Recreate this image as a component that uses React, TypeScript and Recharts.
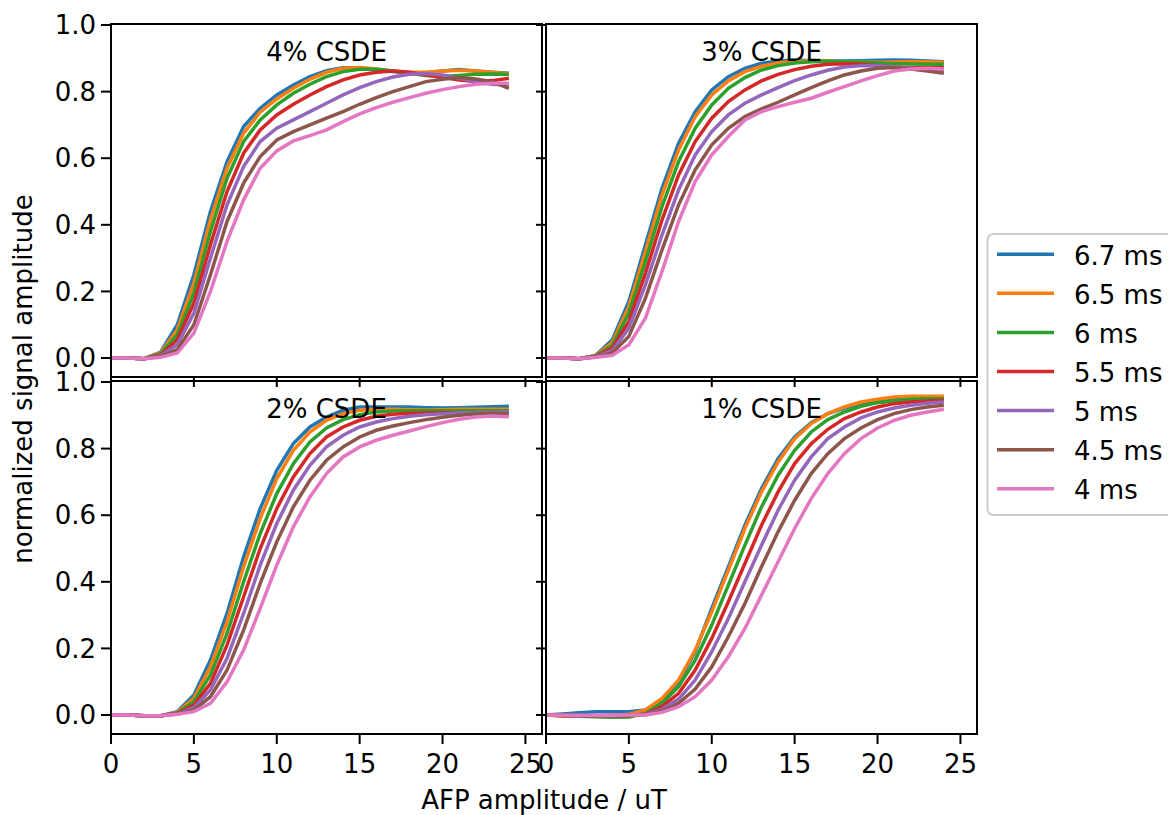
import React from 'react';
import { LineChart, Line, XAxis, YAxis } from 'recharts';

const FONT = '"DejaVu Sans", sans-serif';

const amplitudes = [0, 1, 2, 3, 4, 5, 6, 7, 8, 9, 10, 11, 12, 13, 14, 15, 16, 17, 18, 19, 20, 21, 22, 23, 24];
const pulseLabels = ['6.7 ms', '6.5 ms', '6 ms', '5.5 ms', '5 ms', '4.5 ms', '4 ms'];
const colors = ['#1f77b4', '#ff7f0e', '#2ca02c', '#d62728', '#9467bd', '#8c564b', '#e377c2'];
const xTicks = [0, 5, 10, 15, 20, 25];
const yTicks = [0, 0.2, 0.4, 0.6, 0.8, 1.0];

// one row per pulse duration, same order as pulseLabels
const csde4 = [
    [0, 0, -0.002, 0.018, 0.1, 0.25, 0.44, 0.59, 0.695, 0.75, 0.79, 0.82, 0.845, 0.863, 0.872, 0.872, 0.866, 0.86, 0.855, 0.857, 0.862, 0.866, 0.862, 0.858, 0.855],
    [0, 0, -0.002, 0.016, 0.085, 0.225, 0.415, 0.57, 0.675, 0.738, 0.778, 0.81, 0.837, 0.858, 0.87, 0.872, 0.868, 0.862, 0.858, 0.858, 0.862, 0.864, 0.862, 0.858, 0.854],
    [0, 0, -0.002, 0.013, 0.07, 0.195, 0.38, 0.54, 0.65, 0.715, 0.76, 0.795, 0.822, 0.845, 0.86, 0.867, 0.867, 0.862, 0.855, 0.848, 0.845, 0.848, 0.852, 0.853, 0.852],
    [0, 0, -0.002, 0.01, 0.055, 0.165, 0.34, 0.5, 0.615, 0.685, 0.73, 0.762, 0.79, 0.815, 0.835, 0.85, 0.858, 0.862, 0.858, 0.85, 0.843, 0.835, 0.83, 0.833, 0.84],
    [0, 0, -0.002, 0.008, 0.04, 0.135, 0.3, 0.46, 0.575, 0.65, 0.69, 0.715, 0.74, 0.765, 0.79, 0.812, 0.83, 0.844, 0.852, 0.854, 0.85, 0.84, 0.83, 0.822, 0.82],
    [0, 0, -0.002, 0.005, 0.025, 0.1, 0.25, 0.41, 0.525, 0.605, 0.655, 0.68, 0.7, 0.72, 0.74, 0.762, 0.782, 0.8, 0.815, 0.83, 0.837, 0.842, 0.838, 0.83, 0.81],
    [0, 0, -0.002, 0.002, 0.015, 0.075, 0.2, 0.35, 0.475, 0.57, 0.622, 0.652, 0.668, 0.685, 0.71, 0.733, 0.752, 0.768, 0.782, 0.795, 0.806, 0.815, 0.822, 0.825, 0.825],
];

const csde3 = [
    [0, 0, -0.002, 0.008, 0.055, 0.17, 0.34, 0.51, 0.645, 0.74, 0.805, 0.845, 0.87, 0.885, 0.892, 0.895, 0.893, 0.892, 0.892, 0.893, 0.894, 0.895, 0.894, 0.892, 0.89],
    [0, 0, -0.002, 0.007, 0.047, 0.155, 0.32, 0.49, 0.625, 0.725, 0.79, 0.832, 0.86, 0.876, 0.886, 0.891, 0.892, 0.892, 0.89, 0.889, 0.888, 0.889, 0.89, 0.89, 0.888],
    [0, 0, -0.002, 0.006, 0.038, 0.135, 0.29, 0.455, 0.59, 0.69, 0.76, 0.81, 0.842, 0.865, 0.878, 0.886, 0.89, 0.891, 0.89, 0.888, 0.886, 0.884, 0.883, 0.882, 0.882],
    [0, 0, -0.002, 0.005, 0.03, 0.11, 0.255, 0.415, 0.55, 0.65, 0.72, 0.77, 0.805, 0.832, 0.852, 0.866, 0.876, 0.882, 0.884, 0.882, 0.878, 0.874, 0.872, 0.872, 0.872],
    [0, 0, -0.002, 0.004, 0.022, 0.09, 0.22, 0.37, 0.505, 0.61, 0.68, 0.73, 0.765, 0.79, 0.812, 0.833, 0.85, 0.864, 0.874, 0.878, 0.878, 0.874, 0.87, 0.865, 0.862],
    [0, 0, -0.002, 0.003, 0.015, 0.065, 0.18, 0.325, 0.46, 0.565, 0.64, 0.69, 0.725, 0.748, 0.768, 0.79, 0.812, 0.832, 0.85, 0.862, 0.87, 0.872, 0.868, 0.862, 0.855],
    [0, 0, -0.002, 0.002, 0.008, 0.04, 0.12, 0.26, 0.41, 0.53, 0.61, 0.665, 0.715, 0.74, 0.755, 0.768, 0.78, 0.798, 0.815, 0.832, 0.848, 0.862, 0.868, 0.87, 0.868],
];

const csde2 = [
    [0, 0, -0.002, -0.002, 0.01, 0.06, 0.165, 0.305, 0.475, 0.62, 0.735, 0.815, 0.865, 0.895, 0.915, 0.925, 0.925, 0.925, 0.925, 0.923, 0.922, 0.923, 0.924, 0.926, 0.927],
    [0, 0, -0.002, -0.002, 0.008, 0.05, 0.145, 0.28, 0.445, 0.59, 0.71, 0.795, 0.85, 0.885, 0.905, 0.915, 0.918, 0.918, 0.917, 0.916, 0.917, 0.918, 0.918, 0.918, 0.918],
    [0, 0, -0.002, -0.002, 0.006, 0.04, 0.12, 0.245, 0.4, 0.545, 0.665, 0.755, 0.82, 0.862, 0.887, 0.902, 0.91, 0.913, 0.914, 0.914, 0.914, 0.914, 0.914, 0.914, 0.914],
    [0, 0, -0.002, -0.002, 0.005, 0.03, 0.095, 0.21, 0.355, 0.5, 0.62, 0.715, 0.785, 0.835, 0.865, 0.885, 0.897, 0.903, 0.906, 0.907, 0.908, 0.908, 0.908, 0.908, 0.908],
    [0, 0, -0.002, -0.002, 0.004, 0.022, 0.075, 0.17, 0.305, 0.45, 0.575, 0.675, 0.75, 0.805, 0.84, 0.865, 0.88, 0.89, 0.897, 0.902, 0.905, 0.907, 0.908, 0.909, 0.91],
    [0, 0, -0.002, -0.002, 0.003, 0.015, 0.055, 0.135, 0.255, 0.395, 0.52, 0.625, 0.705, 0.765, 0.805, 0.835, 0.855, 0.868, 0.878, 0.887, 0.894, 0.9, 0.904, 0.906, 0.905],
    [0, 0, -0.002, -0.002, 0.002, 0.01, 0.035, 0.1, 0.195, 0.32, 0.45, 0.565, 0.655, 0.725, 0.775, 0.805, 0.825, 0.84, 0.853, 0.866, 0.878, 0.888, 0.895, 0.898, 0.896],
];

const csde1 = [
    [0, 0.003, 0.007, 0.01, 0.01, 0.01, 0.015, 0.045, 0.1, 0.19, 0.32, 0.445, 0.57, 0.68, 0.77, 0.835, 0.878, 0.905, 0.922, 0.935, 0.945, 0.952, 0.955, 0.955, 0.955],
    [0, -0.002, -0.003, -0.004, -0.003, 0.002, 0.015, 0.05, 0.105, 0.195, 0.31, 0.435, 0.56, 0.67, 0.76, 0.83, 0.875, 0.905, 0.925, 0.94, 0.948, 0.955, 0.957, 0.957, 0.957],
    [0, -0.002, -0.004, -0.005, -0.007, -0.006, 0.005, 0.035, 0.085, 0.165, 0.27, 0.39, 0.51, 0.625, 0.72, 0.795, 0.85, 0.887, 0.91, 0.927, 0.938, 0.944, 0.948, 0.95, 0.95],
    [0, -0.002, -0.002, -0.002, -0.002, -0.002, 0.003, 0.025, 0.065, 0.135, 0.23, 0.34, 0.455, 0.57, 0.67, 0.755, 0.815, 0.858, 0.89, 0.91, 0.925, 0.935, 0.94, 0.943, 0.945],
    [0, -0.001, -0.002, -0.002, -0.002, -0.001, 0.002, 0.017, 0.048, 0.105, 0.19, 0.29, 0.4, 0.51, 0.615, 0.705, 0.775, 0.83, 0.865, 0.892, 0.91, 0.922, 0.93, 0.936, 0.94],
    [0, -0.001, -0.001, -0.002, -0.001, -0.001, 0.001, 0.012, 0.035, 0.078, 0.145, 0.235, 0.335, 0.445, 0.55, 0.645, 0.725, 0.785, 0.83, 0.862, 0.887, 0.905, 0.917, 0.925, 0.93],
    [0, -0.001, -0.001, -0.001, -0.001, 0, 0, 0.008, 0.025, 0.055, 0.105, 0.175, 0.26, 0.36, 0.46, 0.56, 0.65, 0.725, 0.785, 0.83, 0.862, 0.885, 0.9, 0.91, 0.918],
];

const PLOT_W = 431;
const PLOT_H = 353;
const TOP_PAD = 16; // room above the plot so the "1.0" label is not clipped

type PanelProps = {
    left: number;
    top: number;
    title: string;
    values: number[][];
    xLabels: boolean;
    yLabels: boolean;
};

const Panel = ({ left, top, title, values, xLabels, yLabels }: PanelProps) => {
    const data = amplitudes.map((a, i) => {
        const row: Record<string, number> = { x: a };
        values.forEach((s, j) => { row['s' + j] = s[i]; });
        return row;
    });
    const yW = yLabels ? 111 : 12;
    const xH = xLabels ? 60 : 12;
    const tickStyle = { fill: '#000', fontSize: 26, fontFamily: FONT };

    return (
        <>
            <div style={{ position: 'absolute', left: left - yW, top: top - TOP_PAD }}>
                <LineChart width={yW + PLOT_W} height={TOP_PAD + PLOT_H + xH} data={data}
                    margin={{ top: TOP_PAD, right: 0, bottom: 0, left: 0 }} style={{ overflow: 'visible' }}>
                    <XAxis
                        dataKey="x" type="number" domain={[0, 26]} ticks={xTicks} interval={0} allowDataOverflow
                        height={xH} axisLine={false} tickSize={10} tickMargin={11}
                        tickLine={{ stroke: '#000', strokeWidth: 2 }}
                        tick={tickStyle}
                        tickFormatter={(v: number) => (xLabels ? String(v) : '')}
                    />
                    <YAxis
                        type="number" domain={[-0.057, 1.003]} ticks={yTicks} interval={0} allowDataOverflow
                        width={yW} axisLine={false} tickSize={10} tickMargin={5}
                        tickLine={{ stroke: '#000', strokeWidth: 2 }}
                        tick={tickStyle}
                        tickFormatter={(v: number) => (yLabels ? v.toFixed(1) : '')}
                    />
                    {values.map((_, j) => (
                        <Line key={j} type="linear" dataKey={'s' + j} stroke={colors[j]} strokeWidth={3.5}
                            dot={false} isAnimationActive={false} />
                    ))}
                </LineChart>
            </div>
            <div style={{
                position: 'absolute', left: left - 1, top: top - 1, width: PLOT_W + 2, height: PLOT_H + 2,
                border: '2px solid #000', boxSizing: 'border-box', pointerEvents: 'none',
            }} />
            <svg style={{ position: 'absolute', left, top, overflow: 'visible', pointerEvents: 'none' }} width={PLOT_W} height={PLOT_H}>
                <text x={PLOT_W / 2} y={37} textAnchor="middle" fontSize={26} fontFamily={FONT} fill="#000">{title}</text>
            </svg>
        </>
    );
};

const App = () => {
    const legendTop = 254.3;
    const legendStep = 39.07;
    return (
        <div style={{ position: 'absolute', left: 0, top: 0, width: 1168, height: 815, background: '#fff', overflow: 'hidden' }}>
            <Panel left={111} top={24} title="4% CSDE" values={csde4} xLabels={false} yLabels={true} />
            <Panel left={546} top={24} title="3% CSDE" values={csde3} xLabels={false} yLabels={false} />
            <Panel left={111} top={381} title="2% CSDE" values={csde2} xLabels={true} yLabels={true} />
            <Panel left={546} top={381} title="1% CSDE" values={csde1} xLabels={true} yLabels={false} />
            <svg style={{ position: 'absolute', left: 0, top: 0, pointerEvents: 'none' }} width={1168} height={815}>
                <text transform="translate(32 379) rotate(-90)" textAnchor="middle" fontSize={26} fontFamily={FONT} fill="#000">
                    normalized signal amplitude
                </text>
                <text x={544} y={809} textAnchor="middle" fontSize={26} fontFamily={FONT} fill="#000">AFP amplitude / uT</text>
                <rect x={987.5} y={234} width={200} height={281} rx={6} fill="#fff" fillOpacity={0.8} stroke="#cccccc" strokeWidth={2} />
                {pulseLabels.map((label, i) => (
                    <g key={label}>
                        <line x1={997} x2={1054} y1={legendTop + i * legendStep} y2={legendTop + i * legendStep}
                            stroke={colors[i]} strokeWidth={3.5} />
                        <text x={1074} y={legendTop + i * legendStep + 10.5} fontSize={26} fontFamily={FONT} fill="#000">{label}</text>
                    </g>
                ))}
            </svg>
        </div>
    );
};

export default App;
